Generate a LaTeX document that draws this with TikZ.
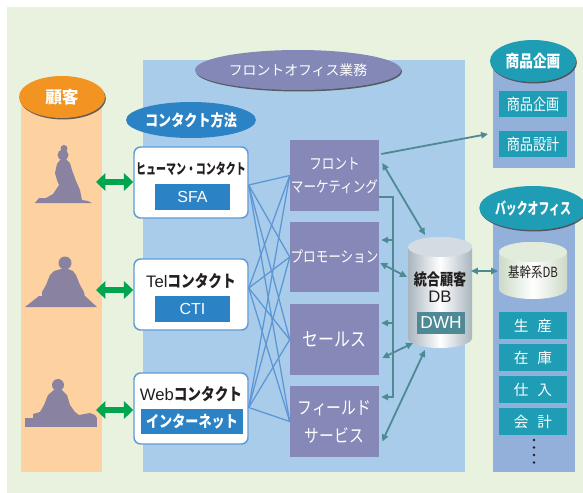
\documentclass[tikz,border=0pt]{standalone}
\usepackage{fontspec}
\setmainfont{Noto Sans CJK JP}
\newfontfamily\jpn{Noto Sans CJK JP}
\newfontfamily\jpnc[FakeStretch=0.82]{Noto Sans CJK JP}
\newfontfamily\jpnn[FakeStretch=0.68]{Noto Sans CJK JP}
\newfontfamily\arial{Liberation Sans}
\usetikzlibrary{arrows.meta,shapes.geometric,calc,shadows}

\definecolor{bggreen}{HTML}{E9F2DF}
\definecolor{custorange}{HTML}{FDD2A0}
\definecolor{hdrorange}{HTML}{F29322}
\definecolor{fofblue}{HTML}{AACCEB}
\definecolor{fofhdr}{HTML}{8388B7}
\definecolor{cblue}{HTML}{2B83C6}
\definecolor{cbord}{HTML}{5E9BD6}
\definecolor{mpurple}{HTML}{8689B7}
\definecolor{xblue}{HTML}{5B97D5}
\definecolor{tealA}{HTML}{4D8A93}
\definecolor{ggreen}{HTML}{00A54F}
\definecolor{rcol}{HTML}{93B0DB}
\definecolor{rteal}{HTML}{1E9DB5}
\definecolor{dwhteal}{HTML}{4E8A96}
\definecolor{dbedge}{HTML}{A9B5BE}
\definecolor{dbtop}{HTML}{D3DCE2}
\definecolor{kedge}{HTML}{CCDAC6}
\definecolor{ktop}{HTML}{E1ECDD}
\definecolor{figure}{HTML}{8A82A1}
\definecolor{ink}{HTML}{231F20}

\begin{document}
\begin{tikzpicture}[x=0.75pt,y=-0.75pt,
  sz/.style 2 args={minimum width=#1*0.75pt, minimum height=#2*0.75pt, inner sep=0pt},
  hdr/.style={ellipse, text=white, inner sep=0pt},
  hshadow/.style={drop shadow={shadow xshift=0.7pt, shadow yshift=-1.1pt, fill=black!75, opacity=0.8}},
  cbox/.style={draw=cbord, line width=1.1pt, fill=white, rounded corners=5pt},
  clabel/.style={fill=cblue, text=white, inner sep=0pt},
  ctitle/.style={text=ink, inner sep=0pt},
  mbox/.style={fill=mpurple, text=white, align=center, inner sep=0pt},
  ritem/.style={fill=rteal, text=white, inner sep=0pt},
  xline/.style={draw=xblue, line width=0.95pt},
  tline/.style={draw=tealA, line width=1.35pt},
  tip/.tip={Triangle[length=5.2pt,width=4.8pt]},
  tarrow/.style={tline, -tip},
  tdarrow/.style={tline, tip-tip},
  garrow/.style={draw=ggreen, line width=4.6pt,
    {Triangle[length=7pt,width=13pt]}-{Triangle[length=7pt,width=13pt]}},
  fig/.style={fill=figure}
]
\useasboundingbox (0,0) rectangle (583,493);
\fill[white] (0,0) rectangle (583,493);
\fill[bggreen] (7,7) rectangle (583,493);

% ---------- customers ----------
\fill[custorange] (21,97) rectangle (102,472);
\node[hdr, hshadow, fill=hdrorange, sz={86}{42},
      font=\jpn\bfseries\fontsize{12.5}{14}\selectfont] (kokyaku) at (62,97) {顧客};

% kneeling figure
\fill[fig] (63,155) circle [radius=5.5];
\fill[fig] (64,148.5) circle [radius=3.5];
\fill[fig] (60,160) -- (57,164) -- (55,173) -- (57,180) -- (59,185) -- (53,194)
  -- (46,198) -- (39,198) -- (35,203) -- (92,203) -- (88,201) -- (82,200)
  -- (80,190) -- (76,181) -- (72,170) -- (70,163) -- (66,159) -- cycle;
% figure at a low table
\fill[fig] (65,263) circle [radius=6.5];
\fill[fig] (61,269) -- (54,271) -- (50,275) -- (46,285) -- (42,292) -- (42,297) -- (85,297)
  -- (84,292) -- (80,285) -- (76,275) -- (73,271) -- (68,269) -- cycle;
\fill[fig] (39,296) -- (85,296) -- (97,307) -- (25,307) -- cycle;
% figure at a desk
\fill[fig] (58,385) circle [radius=6];
\fill[fig] (54,390) -- (48,395) -- (44,405) -- (40,412) -- (33,414) -- (33,418)
  -- (97,418) -- (95,415) -- (90,413) -- (79,415) -- (75,412) -- (70,405)
  -- (67,395) -- (62,390) -- cycle;
\fill[fig] (25,418) rectangle (97,427);

% ---------- front office ----------
\fill[fofblue] (143,60) rectangle (465,472);
\node[hdr, hshadow, fill=fofhdr, sz={206}{40},
      font=\jpn\fontsize{10.4}{12}\selectfont] (fof) at (298,70) {フロントオフィス業務};
\node[hdr, fill=cblue, sz={122}{36},
      font=\jpnc\bfseries\fontsize{12}{14}\selectfont] (method) at (191,120) {コンタクト方法};

% contact channels
\node[cbox, sz={114}{71}] (cbox1) at (191,182.5) {};
\node[cbox, sz={114}{71}] (cbox2) at (191,294.5) {};
\node[cbox, sz={114}{71}] (cbox3) at (191,408.5) {};
\node[ctitle, font=\jpnn\bfseries\fontsize{11}{13}\selectfont] (ct1) at (191,169) {ヒューマン・コンタクト};
\node[ctitle] (ct2) at (191,281)
  {{\arial\fontsize{12.5}{14}\selectfont Tel}{\jpnc\bfseries\fontsize{12.5}{14}\selectfont コンタクト}};
\node[ctitle] (ct3) at (191,394)
  {{\arial\fontsize{12.5}{14}\selectfont Web}{\jpnc\bfseries\fontsize{12.5}{14}\selectfont コンタクト}};
\node[clabel, sz={75}{26}, font=\arial\fontsize{12}{14}\selectfont] (sfa) at (192.5,197) {SFA};
\node[clabel, sz={75}{26}, font=\arial\fontsize{12}{14}\selectfont] (cti) at (192.5,309) {CTI};
\node[clabel, sz={102}{25}, font=\jpnc\bfseries\fontsize{12}{14}\selectfont] (inet) at (192,421.5) {インターネット};

\coordinate (cu1) at (96,182);
\coordinate (cu2) at (96,290);
\coordinate (cu3) at (96,410);
\draw[garrow] (cu1) -- (cu1 -| cbox1.west);
\draw[garrow] (cu2) -- (cu2 -| cbox2.west);
\draw[garrow] (cu3) -- (cu3 -| cbox3.west);

% front office functions
\node[mbox, sz={89}{71}, font=\jpnc\fontsize{11.5}{17}\selectfont] (m1) at (334.5,175.5) {フロント\\マーケティング};
\node[mbox, sz={89}{70}, font=\jpnc\fontsize{11.5}{13}\selectfont] (m2) at (334.5,257) {プロモーション};
\node[mbox, sz={89}{71}, font=\jpnc\fontsize{14.5}{16}\selectfont] (m3) at (334.5,339.5) {セールス};
\node[mbox, sz={89}{71}, font=\jpnc\fontsize{13.5}{21}\selectfont] (m4) at (334.5,421.5) {フィールド\\サービス};

% every channel feeds every function
\coordinate (o1) at ($(cbox1.east)+(0,2.5)$);
\coordinate (o2) at ($(cbox2.east)+(0,-6.5)$);
\coordinate (o3) at ($(cbox3.east)+(0,-1)$);
\foreach \o in {o1,o2,o3}
  \foreach \m in {m1,m2,m3,m4}
    \draw[xline] (\o) -- (\m.west);

% ---------- integrated customer DB ----------
\shade[left color=dbedge, right color=dbedge, middle color=white]
  (408,247) -- (408,338) arc[start angle=180, end angle=0, x radius=32, y radius=10]
  -- (472,247) arc[start angle=0, end angle=-180, x radius=32, y radius=10] -- cycle;
\fill[dbtop] (440,247) ellipse [x radius=32, y radius=10];
\node[sz={64}{111}] (db) at (440,292.5) {};
\node[ctitle, font=\jpnc\bfseries\fontsize{12}{14}\selectfont] (dbname) at (440,279) {統合顧客};
\node[ctitle, font=\arial\fontsize{12.5}{14}\selectfont] (dbdb) at (440,297) {DB};
\node[fill=dwhteal, text=white, sz={48}{22}, font=\arial\fontsize{13}{15}\selectfont] (dwh) at (441,323) {DWH};

\coordinate (db-t) at (425,235);
\coordinate (db-l) at (407,277);
\coordinate (db-b1) at (413,343);
\coordinate (db-b2) at (425,350);
\coordinate (db-r) at (471,271);

% ---------- product planning ----------
\fill[rcol] (493,61) rectangle (575,168);
\node[hdr, hshadow, fill=rteal, sz={86}{42},
      font=\jpnc\bfseries\fontsize{12.5}{14}\selectfont] (plan) at (533,61) {商品企画};
\node[ritem, sz={68}{26}, font=\jpnc\fontsize{12}{14}\selectfont] (plan1) at (533,104) {商品企画};
\node[ritem, sz={68}{26}, font=\jpnc\fontsize{12}{14}\selectfont] (plan2) at (533,144) {商品設計};
\coordinate (plan-in) at (488,134);

% ---------- back office ----------
\fill[rcol] (493,208) rectangle (575,472);
\node[hdr, hshadow, fill=rteal, sz={86}{44},
      font=\jpnn\bfseries\fontsize{12}{14}\selectfont] (back) at (533,208) {バックオフィス};
\shade[left color=kedge, right color=kedge, middle color=white]
  (499,252) -- (499,289) arc[start angle=180, end angle=0, x radius=34, y radius=10]
  -- (567,252) arc[start angle=0, end angle=-180, x radius=34, y radius=10] -- cycle;
\fill[ktop] (533,252) ellipse [x radius=34, y radius=10];
\node[ctitle, font=\jpnc\fontsize{10.5}{12}\selectfont] (kdb) at (533,272) {基幹系DB};
\coordinate (kdb-l) at (498,271);
\node[ritem, sz={68}{27}, font=\jpn\fontsize{11}{13}\selectfont] (b1) at (533,325.5) {生\hspace{0.6em}産};
\node[ritem, sz={68}{27}, font=\jpn\fontsize{11}{13}\selectfont] (b2) at (533,357.5) {在\hspace{0.6em}庫};
\node[ritem, sz={68}{27}, font=\jpn\fontsize{11}{13}\selectfont] (b3) at (533,389.5) {仕\hspace{0.6em}入};
\node[ritem, sz={68}{27}, font=\jpn\fontsize{11}{13}\selectfont] (b4) at (533,421.5) {会\hspace{0.6em}計};
\foreach \yy in {440,447.5,455,462.5}
  \fill[ink] (534,\yy) circle [radius=1.4];

% ---------- flows ----------
\coordinate (mk-plan) at ($(m1.east)+(2,-21.5)$);
\coordinate (mk-db) at ($(m1.east)+(3,-12.5)$);
\coordinate (mk-bus) at ($(m1.east)+(0,21.5)$);
\coordinate (bus-t) at (393,197);
\coordinate (bus-b) at (393,397);
\coordinate (bus-2) at (393,240);
\coordinate (bus-3) at (393,323);

\draw[tarrow] (mk-plan) -- (plan-in);
\draw[tdarrow] (mk-db) -- (db-t);
\draw[tline, -tip] (mk-bus) -- (bus-t) -- (bus-b) -- ($(m4.east |- bus-b)+(2,0)$);
\draw[tarrow] (bus-2) -- ($(m2.east |- bus-2)+(2,0)$);
\draw[tarrow] (bus-3) -- ($(m3.east |- bus-3)+(2,0)$);
\draw[tdarrow] ($(m2.east)+(1,6)$) -- (db-l);
\draw[tdarrow] ($(m3.east)+(3,18.5)$) -- (db-b1);
\draw[tdarrow] ($(m4.east)+(3,20)$) -- (db-b2);
\draw[tdarrow] (db-r) -- (kdb-l);
\end{tikzpicture}
\end{document}
